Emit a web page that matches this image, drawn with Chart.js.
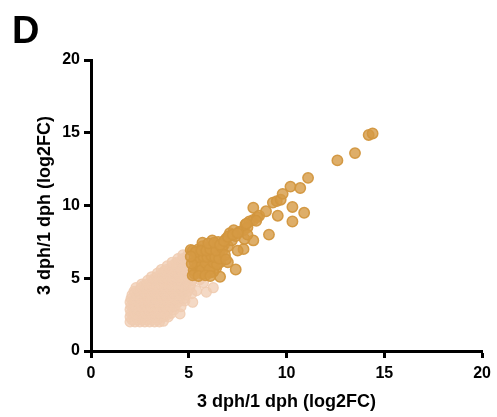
<!DOCTYPE html>
<html>
<head>
<meta charset="utf-8">
<script src="https://cdn.jsdelivr.net/npm/chart.js@4"></script>
<style>
  html, body { margin: 0; padding: 0; background: #fff; }
  #wrap { width: 497px; height: 417px; position: relative; }
</style>
</head>
<body>
<div id="wrap"><canvas id="scatterChart"></canvas></div>
<script>
// panel letter and axis titles
const panelLabel = 'D';
const xTitle = '3 dph/1 dph (log2FC)';
const yTitle = '3 dph/1 dph (log2FC)';
const axisTicks = [0, 5, 10, 15, 20];

// genes up in both comparisons (x > 5 and y > 5)
const highPoints = [
    [5.3, 5.3], [5.5, 5.4], [5.7, 5.3], [5.9, 5.5], [6.1, 5.4], [5.4, 5.7], [5.6, 5.8],
    [5.8, 5.9], [6.0, 5.8], [6.2, 5.9], [6.4, 5.7], [5.3, 6.1], [5.5, 6.2], [5.7, 6.3],
    [5.9, 6.2], [6.1, 6.3], [6.3, 6.2], [6.5, 6.1], [5.4, 6.6], [5.6, 6.7], [5.8, 6.6],
    [6.0, 6.7], [6.2, 6.8], [6.4, 6.6], [6.6, 6.5], [5.2, 6.9], [5.5, 7.0], [5.7, 7.2],
    [6.0, 7.1], [6.3, 7.2], [6.5, 7.0], [6.7, 6.8], [6.2, 7.6], [6.5, 7.5], [6.8, 7.3],
    [7.0, 7.2], [6.9, 7.7], [7.2, 7.6], [7.1, 8.1], [7.3, 8.3], [7.4, 7.9], [7.6, 8.2],
    [7.8, 8.3], [7.9, 8.7], [8.1, 8.9], [8.0, 8.5], [8.3, 9.0], [8.5, 9.2], [8.3, 9.85],
    [8.6, 9.3], [8.95, 9.6], [9.3, 10.2], [9.5, 10.3], [9.7, 10.4], [9.8, 10.8],
    [10.2, 11.3], [10.7, 11.2], [11.1, 11.9], [12.6, 13.1], [13.5, 13.6], [14.2, 14.85],
    [14.4, 14.95], [9.1, 8.0], [9.55, 9.3], [10.3, 9.9], [10.9, 9.5], [10.3, 8.9],
    [8.3, 7.6], [7.85, 7.7], [7.8, 7.0], [7.5, 6.9], [7.4, 5.6], [7.0, 6.1], [6.6, 6.1],
    [6.6, 5.1], [6.25, 5.45], [5.1, 6.95], [5.7, 7.45], [8.45, 8.95], [8.0, 8.0], [7.95, 8.75],
    [5.25, 5.55], [5.45, 5.95], [5.65, 5.55], [5.85, 6.05], [6.05, 5.6], [6.25, 6.1], [6.45, 5.95],
    [5.3, 6.4], [5.5, 6.45], [5.75, 6.5], [5.95, 6.45], [6.15, 6.55], [6.35, 6.45], [6.55, 6.35],
    [5.35, 6.8], [5.65, 6.9], [5.9, 6.9], [6.1, 7.0], [6.4, 6.9], [6.7, 7.1], [6.0, 7.4],
    [6.3, 7.45], [6.6, 7.3], [6.8, 7.55], [7.0, 7.85], [7.25, 8.0], [7.5, 8.1], [6.85, 6.6],
    [6.9, 6.3], [5.2, 5.2], [5.5, 5.15], [5.85, 5.2], [6.1, 5.15], [5.15, 6.0], [5.1, 6.5]
];

// all other genes (light cloud)
const lowPoints = [
    [2.0, 2.0], [2.25, 2.0], [2.5, 2.0], [2.75, 2.0], [3.0, 2.0], [3.25, 2.0], [3.5, 2.0], [3.7, 2.05],
    [2.1, 2.15], [2.4, 2.15], [2.6, 2.15], [2.9, 2.15], [3.1, 2.15], [3.4, 2.15],
    [2.0, 2.35], [2.2, 2.35], [2.45, 2.35], [2.7, 2.35], [2.95, 2.35], [3.2, 2.35], [3.45, 2.35], [3.7, 2.35], [3.95, 2.35],
    [2.15, 2.5], [2.4, 2.5], [2.65, 2.5], [2.9, 2.5], [3.15, 2.5], [3.4, 2.5], [3.65, 2.5], [3.9, 2.5],
    [2.05, 2.6], [2.3, 2.6], [2.55, 2.6], [2.8, 2.6], [3.05, 2.6], [3.3, 2.6], [3.55, 2.6], [3.8, 2.6], [4.1, 2.6], [4.55, 2.55],
    [2.0, 2.85], [2.2, 2.85], [2.45, 2.85], [2.7, 2.85], [2.95, 2.85], [3.2, 2.85], [3.45, 2.85], [3.7, 2.85], [3.95, 2.85], [4.25, 2.85],
    [2.15, 3.0], [2.4, 3.0], [2.65, 3.0], [2.9, 3.0], [3.15, 3.0], [3.4, 3.0], [3.65, 3.0], [3.9, 3.0], [4.15, 3.0],
    [2.05, 3.1], [2.3, 3.1], [2.55, 3.1], [2.8, 3.1], [3.05, 3.1], [3.3, 3.1], [3.55, 3.1], [3.8, 3.1], [4.05, 3.1], [4.3, 3.1], [4.6, 3.05],
    [2.0, 3.35], [2.2, 3.35], [2.45, 3.35], [2.7, 3.35], [2.95, 3.35], [3.2, 3.35], [3.45, 3.35], [3.7, 3.35], [3.95, 3.35], [4.2, 3.35], [4.45, 3.35], [4.8, 3.45], [5.2, 3.35],
    [2.15, 3.5], [2.4, 3.5], [2.65, 3.5], [2.9, 3.5], [3.15, 3.5], [3.4, 3.5], [3.65, 3.5], [3.9, 3.5], [4.15, 3.5], [4.4, 3.5],
    [2.05, 3.6], [2.3, 3.6], [2.55, 3.6], [2.8, 3.6], [3.05, 3.6], [3.3, 3.6], [3.55, 3.6], [3.8, 3.6], [4.05, 3.6], [4.3, 3.6], [4.55, 3.6], [4.75, 3.6],
    [2.1, 3.85], [2.35, 3.85], [2.6, 3.85], [2.85, 3.85], [3.1, 3.85], [3.35, 3.85], [3.6, 3.85], [3.85, 3.85], [4.1, 3.85], [4.35, 3.85], [4.6, 3.85], [4.85, 3.85], [5.15, 3.95],
    [2.25, 4.0], [2.5, 4.0], [2.75, 4.0], [3.0, 4.0], [3.25, 4.0], [3.5, 4.0], [3.75, 4.0], [4.0, 4.0], [4.25, 4.0], [4.5, 4.0],
    [2.2, 4.1], [2.45, 4.1], [2.7, 4.1], [2.95, 4.1], [3.2, 4.1], [3.45, 4.1], [3.7, 4.1], [3.95, 4.1], [4.2, 4.1], [4.45, 4.1], [4.7, 4.1], [4.95, 4.1], [5.4, 4.15], [5.9, 4.05],
    [2.3, 4.35], [2.55, 4.35], [2.8, 4.35], [3.05, 4.35], [3.3, 4.35], [3.55, 4.35], [3.8, 4.35], [4.05, 4.35], [4.3, 4.35], [4.55, 4.35], [4.8, 4.35], [5.05, 4.35], [6.25, 4.35],
    [2.7, 4.5], [2.95, 4.5], [3.2, 4.5], [3.45, 4.5], [3.7, 4.5], [3.95, 4.5], [4.2, 4.5], [4.45, 4.5], [4.7, 4.5],
    [2.6, 4.6], [2.85, 4.6], [3.1, 4.6], [3.35, 4.6], [3.6, 4.6], [3.85, 4.6], [4.1, 4.6], [4.35, 4.6], [4.6, 4.6], [4.85, 4.6], [5.1, 4.6], [5.75, 4.7],
    [2.9, 4.85], [3.15, 4.85], [3.4, 4.85], [3.65, 4.85], [3.9, 4.85], [4.15, 4.85], [4.4, 4.85], [4.65, 4.85], [4.9, 4.85], [5.15, 4.85], [5.55, 4.9],
    [3.25, 5.0], [3.5, 5.0], [3.75, 5.0], [4.0, 5.0], [4.25, 5.0], [4.5, 5.0], [4.75, 5.0],
    [3.1, 5.1], [3.35, 5.1], [3.6, 5.1], [3.85, 5.1], [4.1, 5.1], [4.35, 5.1], [4.6, 5.1], [4.85, 5.1], [5.1, 5.1],
    [3.4, 5.35], [3.65, 5.35], [3.9, 5.35], [4.15, 5.35], [4.4, 5.35], [4.65, 5.35], [4.9, 5.35], [5.15, 5.35],
    [3.75, 5.5], [4.0, 5.5], [4.25, 5.5], [4.5, 5.5], [4.75, 5.5], [5.0, 5.5],
    [3.6, 5.6], [3.85, 5.6], [4.1, 5.6], [4.35, 5.6], [4.6, 5.6], [4.85, 5.6], [5.1, 5.6],
    [3.9, 5.85], [4.15, 5.85], [4.4, 5.85], [4.65, 5.85], [4.9, 5.85], [5.15, 5.85],
    [4.3, 6.0], [4.55, 6.0], [4.8, 6.0],
    [4.15, 6.1], [4.4, 6.1], [4.65, 6.1], [4.9, 6.1], [5.1, 6.1],
    [4.45, 6.35], [4.7, 6.35], [4.95, 6.35],
    [4.7, 6.6], [4.95, 6.6]
];

function toXY(pairs) {
    return pairs.map(p => ({ x: p[0], y: p[1] }));
}

// panel letter drawn top-left
const panelLetter = {
    id: 'panelLetter',
    afterDraw(chart) {
        const ctx = chart.ctx;
        ctx.save();
        ctx.fillStyle = '#000';
        ctx.font = 'bold 38px "Liberation Sans", Arial, sans-serif';
        ctx.textBaseline = 'alphabetic';
        ctx.fillText(panelLabel, 12, 43);
        ctx.restore();
    }
};

const tickFont = { family: '"Liberation Sans", Arial, sans-serif', size: 16, weight: 'bold' };
const titleFont = { family: '"Liberation Sans", Arial, sans-serif', size: 18, weight: 'bold' };

function axisOptions(title, titlePadding, tickPadding, size, isX) {
    return {
        type: 'linear',
        min: axisTicks[0],
        max: axisTicks[axisTicks.length - 1],
        afterBuildTicks: scale => { scale.ticks = axisTicks.map(v => ({ value: v })); },
        afterFit: scale => { if (isX) scale.height = size; else scale.width = size; },
        ticks: { font: tickFont, color: '#000', padding: tickPadding },
        grid: { drawOnChartArea: false, drawTicks: true, tickLength: 7, tickWidth: 3, tickColor: '#000' },
        border: { display: true, color: '#000', width: 3 },
        title: { display: true, text: title, font: titleFont, color: '#000', padding: titlePadding }
    };
}

const ctx = document.getElementById('scatterChart').getContext('2d');
new Chart(ctx, {
    type: 'scatter',
    data: {
        datasets: [{
            label: 'up',
            data: toXY(highPoints),
            backgroundColor: 'rgba(214, 154, 68, 0.8)',
            borderColor: 'rgba(210, 150, 62, 0.95)',
            borderWidth: 1.5,
            pointRadius: 5.2
        }, {
            label: 'other',
            data: toXY(lowPoints),
            backgroundColor: 'rgba(240, 204, 177, 0.75)',
            borderColor: 'rgba(240, 204, 177, 0.9)',
            borderWidth: 1.2,
            pointRadius: 5
        }]
    },
    options: {
        responsive: true,
        maintainAspectRatio: false,
        animation: false,
        layout: { padding: { top: 60, right: 14, left: 0, bottom: 0 } },
        plugins: {
            legend: { display: false },
            tooltip: { enabled: false }
        },
        scales: {
            x: axisOptions(xTitle, { bottom: 4 }, 6, 66, true),
            y: axisOptions(yTitle, { top: 34 }, 4, 91, false)
        }
    },
    plugins: [panelLetter]
});
</script>
</body>
</html>
